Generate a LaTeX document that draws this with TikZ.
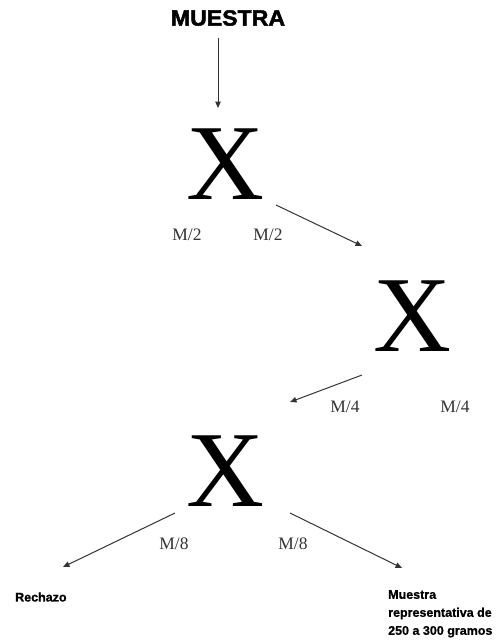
\documentclass[tikz,border=0pt]{standalone}
\usepackage{fontspec}
\setmainfont{Liberation Serif}
\newfontfamily\arialf{Liberation Sans}
\newfontfamily\arialheavy[FakeBold=2]{Liberation Sans Bold}
\newfontfamily\arialbold[FakeBold=0.8]{Liberation Sans Bold}
\usetikzlibrary{arrows.meta}
\definecolor{linec}{HTML}{333333}
\tikzset{
  bigx/.style={inner sep=0pt, font=\fontsize{108}{108}\selectfont},
  lbl/.style={inner sep=0pt, text=black!80, font=\fontsize{17.5}{17.5}\selectfont},
  endtxt/.style={inner sep=0pt, font=\arialbold\fontsize{12.5}{18}\selectfont, align=left},
  conn/.style={draw=linec, line width=1pt, -{Triangle[length=6.5pt,width=5.5pt]}}
}
\begin{document}
\begin{tikzpicture}[x=1pt,y=-1pt]
\useasboundingbox (0,0) rectangle (495,642);
% title
\node[inner sep=0pt, font=\arialheavy\fontsize{22}{22}\selectfont, xscale=1.05] (muestra) at (228,18) {MUESTRA};
% splitters
\node[bigx] (x1) at (225,164) {X};
\node[bigx] (x2) at (412,316) {X};
\node[bigx] (x3) at (225,471) {X};
% fractions
\node[lbl] (m2a) at (187,235) {M/2};
\node[lbl] (m2b) at (268,235) {M/2};
\node[lbl] (m4a) at (345,407) {M/4};
\node[lbl] (m4b) at (455,407) {M/4};
\node[lbl] (m8a) at (174,544) {M/8};
\node[lbl] (m8b) at (293,544) {M/8};
% end labels
\node[endtxt, anchor=west] (rech) at (15,597) {Rechazo};
\node[endtxt, anchor=north west] (rep) at (388,590) {Muestra\\representativa de\\250 a 300 gramos};
% connector ends
\coordinate (a1s) at (218,38);  \coordinate (a1e) at (218,108);
\coordinate (a2s) at (276,205); \coordinate (a2e) at (362,246);
\coordinate (a3s) at (362,375); \coordinate (a3e) at (290,402);
\coordinate (a4s) at (175,513); \coordinate (a4e) at (63,567);
\coordinate (a5s) at (290,513); \coordinate (a5e) at (402,568);
\draw[conn] (a1s) -- (a1e);
\draw[conn] (a2s) -- (a2e);
\draw[conn] (a3s) -- (a3e);
\draw[conn] (a4s) -- (a4e);
\draw[conn] (a5s) -- (a5e);
\end{tikzpicture}
\end{document}
